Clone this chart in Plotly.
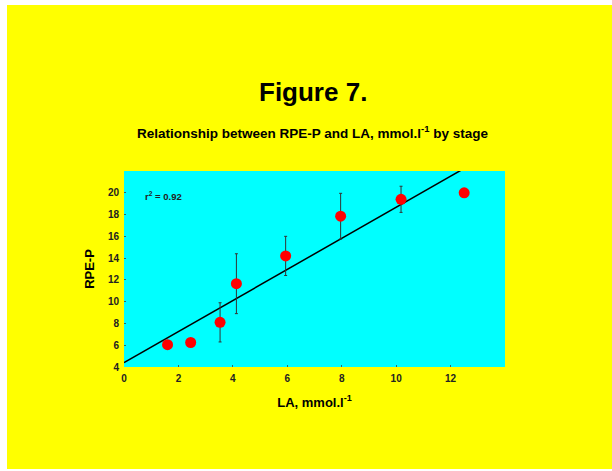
import plotly.graph_objects as go

# Data
la = [1.6, 2.45, 3.53, 4.13, 5.94, 7.96, 10.18, 12.5]
rpe = [6.05, 6.25, 8.1, 11.65, 14.2, 17.85, 19.4, 20.0]
rpe_err = [0.3, 0.3, 1.8, 2.75, 1.8, 2.1, 1.2, 0.3]
fit_intercept = 4.4
fit_slope = 1.427
fit_x = [0, 14]
fit_y = [fit_intercept + fit_slope * v for v in fit_x]
x_ticks = [0, 2, 4, 6, 8, 10, 12]
y_ticks = [4, 6, 8, 10, 12, 14, 16, 18, 20]

W, H = 612, 471
L, R, T, B = 124, 612 - 505, 171, 471 - 367
pw, ph = W - L - R, H - T - B

def px(x):
    return (x - L) / pw

def py(y):
    return (H - B - y) / ph

FONT = "Liberation Sans, Arial, sans-serif"

fig = go.Figure()
fig.add_trace(go.Scatter(x=fit_x, y=fit_y, mode="lines",
                         line=dict(color="black", width=1.5), hoverinfo="skip"))
fig.add_trace(go.Scatter(
    x=la, y=rpe, mode="markers",
    marker=dict(color="#ff0000", size=11, line=dict(width=0)),
    error_y=dict(type="data", array=rpe_err, visible=True, color="#333333",
                 thickness=1, width=1.5),
))

tickfont = dict(size=10, family=FONT, weight="bold", color="#222222")

fig.update_layout(
    width=W, height=H,
    margin=dict(l=L, r=R, t=T, b=B, pad=0),
    paper_bgcolor="#ffff00",
    plot_bgcolor="#00ffff",
    showlegend=False,
    font=dict(family=FONT, color="black"),
    xaxis=dict(range=[0, 14], tickvals=x_ticks, showgrid=False, zeroline=False,
               showline=False, ticks="inside", ticklen=2, tickcolor="#336666",
               tickfont=tickfont, ticklabelstandoff=4,
               title=dict(text="<b>LA, mmol.l<sup>-1</sup></b>", font=dict(size=13),
                          standoff=14)),
    yaxis=dict(range=[4, 22], tickvals=y_ticks, showgrid=False, zeroline=False,
               showline=False, ticks="inside", ticklen=2, tickcolor="#336666",
               tickfont=tickfont, ticklabelstandoff=4,
               title=dict(text="<b>RPE-P</b>", font=dict(size=13), standoff=10)),
    annotations=[
        dict(text="<b>Figure 7.</b>", x=px(313), y=py(92), xref="paper", yref="paper",
             showarrow=False, font=dict(size=26, family=FONT), xanchor="center", yanchor="middle"),
        dict(text="<b>Relationship between RPE-P and LA, mmol.l<sup>-1</sup> by stage</b>",
             x=px(312), y=py(132), xref="paper", yref="paper", showarrow=False,
             font=dict(size=13.5, family=FONT), xanchor="center", yanchor="middle"),
        dict(text="<b>r<sup>2</sup> = 0.92</b>", x=0.7, y=19.7, xref="x", yref="y",
             showarrow=False, font=dict(size=9.5, family=FONT, color="#222222"),
             xanchor="left", yanchor="middle"),
    ],
    shapes=[
        dict(type="rect", xref="paper", yref="paper", x0=px(-2), x1=px(7), y0=py(480), y1=py(-2),
             fillcolor="white", line=dict(width=0), layer="above"),
        dict(type="rect", xref="paper", yref="paper", x0=px(-2), x1=px(620), y0=py(5), y1=py(-2),
             fillcolor="white", line=dict(width=0), layer="above"),
        dict(type="rect", xref="paper", yref="paper", x0=px(-2), x1=px(620), y0=py(480), y1=py(469),
             fillcolor="white", line=dict(width=0), layer="above"),
    ],
)

fig.write_html("out.html")
